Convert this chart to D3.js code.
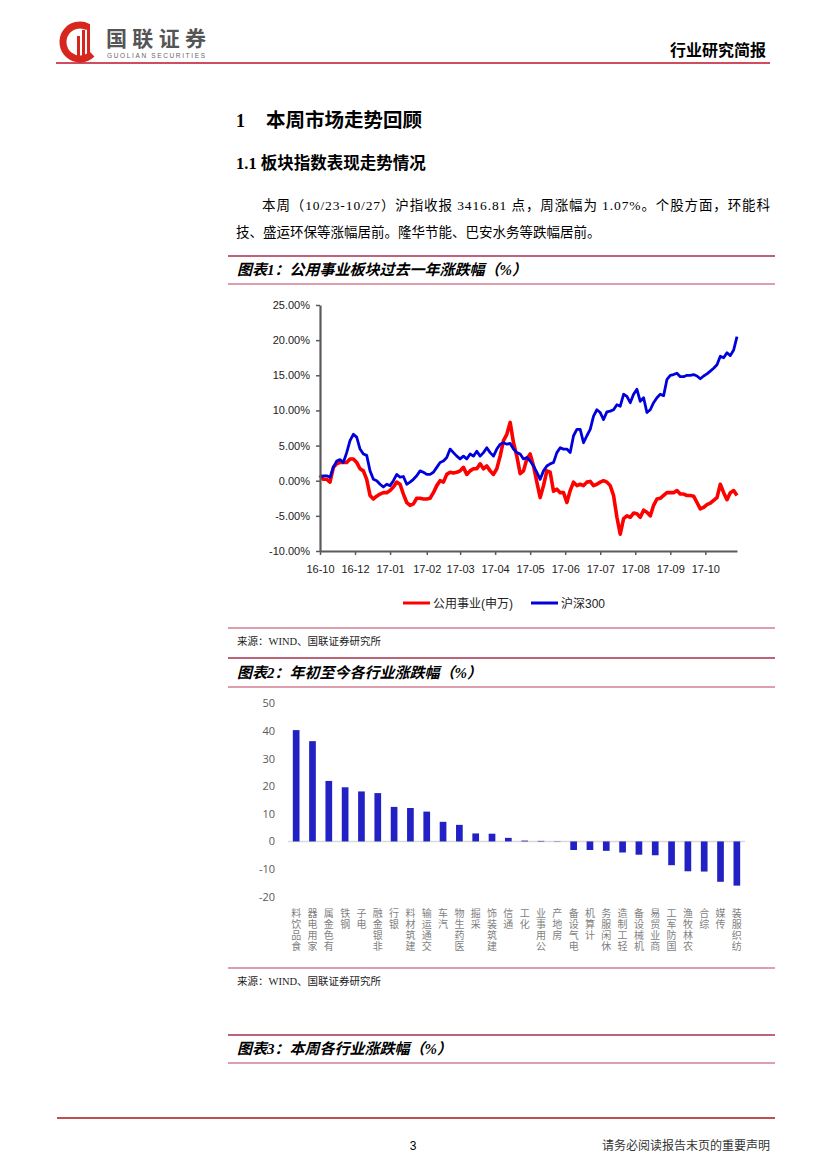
<!DOCTYPE html>
<html>
<head>
<meta charset="utf-8">
<script src="https://cdn.jsdelivr.net/npm/d3@7"></script>
<style>
  body { margin: 0; background: #fff; }
</style>
</head>
<body>
<svg id="page" width="827" height="1169"></svg>
<script>
// chart 1: one point every 2 trading days, 16-10-27 .. 17-10-27
var dayStep = 2;
var utility = [0.8, 0.2, 0.2, -0.2, 1.9, 2.4, 2.6, 2.6, 2.6, 3.1,
  3.1, 2.6, 1.7, 1.4, 0.2, -2.1, -2.6, -2.2, -1.9, -1.7,
  -1.7, -1.4, -0.9, -0.2, -0.5, -1.9, -3.1, -3.5, -3.3, -2.5,
  -2.5, -2.6, -2.6, -2.5, -1.7, -0.7, 0.0, -0.2, 0.9, 1.2,
  1.1, 1.2, 1.4, 1.9, 0.9, 1.4, 1.7, 1.7, 2.4, 1.7,
  2.1, 1.4, 0.9, 1.7, 3.5, 5.7, 6.6, 8.3, 5.4, 3.5,
  1.0, 1.4, 3.1, 3.8, 2.1, -0.2, -2.4, -0.7, 1.4, 1.2,
  -1.5, -1.2, -1.7, -1.7, -3.1, -1.4, -0.2, -0.7, -0.5, -0.7,
  -0.2, -0.1, -0.7, -0.5, -0.2, 0.0, -0.2, -0.7, -2.1, -5.2,
  -7.6, -5.4, -5.0, -5.2, -4.6, -4.7, -5.2, -4.2, -4.5, -5.0,
  -3.5, -2.6, -2.5, -2.1, -1.7, -1.7, -1.7, -1.4, -1.9, -1.9,
  -2.1, -2.1, -2.2, -3.1, -4.0, -3.8, -3.4, -3.2, -2.8, -2.4,
  -0.5, -1.7, -2.7, -1.7, -1.4, -2.1];
var hs300 = [0.5, 0.7, 0.7, 0.5, 1.9, 2.8, 3.0, 2.6, 4.0, 5.7,
  6.6, 6.2, 4.5, 3.8, 3.6, 1.4, 0.2, 0.0, -0.5, -0.9,
  -0.5, -0.7, 0.0, 0.9, 0.5, 0.6, -0.5, -0.2, 0.2, 0.7,
  1.4, 1.2, 0.9, 0.9, 1.2, 1.9, 2.6, 2.8, 3.3, 4.5,
  4.0, 3.5, 3.1, 3.5, 3.1, 3.8, 3.5, 4.2, 3.5, 4.0,
  4.7, 4.0, 3.5, 4.5, 5.2, 5.4, 5.2, 5.3, 4.5, 4.0,
  3.8, 3.1, 3.3, 2.8, 2.1, 1.2, 0.2, 1.4, 2.1, 2.4,
  2.6, 4.0, 4.7, 4.5, 4.5, 4.0, 6.4, 7.3, 7.3, 5.4,
  6.4, 7.3, 9.2, 10.1, 9.7, 8.7, 9.8, 9.9, 10.1, 10.8,
  10.6, 12.3, 12.0, 11.1, 12.3, 13.0, 11.3, 11.8, 9.7, 10.1,
  11.1, 11.8, 12.3, 12.1, 14.4, 15.0, 15.1, 15.3, 14.8, 14.8,
  15.0, 15.0, 15.1, 14.9, 14.5, 14.9, 15.2, 15.6, 16.0, 16.5,
  17.7, 17.5, 18.2, 17.8, 18.6, 20.5];
var seriesNames = ["公用事业(申万)", "沪深300"];
var seriesColors = ["#ff0000", "#0000dd"];
var monthTickDays = [0, 21, 42, 64, 84, 105, 126, 147, 168, 189, 210, 231];
var monthLabels = ["16-10", "16-12", "17-01", "17-02", "17-03", "17-04",
  "17-05", "17-06", "17-07", "17-08", "17-09", "17-10"];
var pctTicks = [-10, -5, 0, 5, 10, 15, 20, 25];

// chart 2: year to date change by industry
var industries = ["食品饮料", "家用电器", "有色金属", "钢铁", "电子", "非银金融", "银行",
  "建筑材料", "交通运输", "汽车", "医药生物", "采掘", "建筑装饰", "通信", "化工",
  "公用事业", "房地产", "电气设备", "计算机", "休闲服务", "轻工制造", "机械设备",
  "商业贸易", "国防军工", "农林牧渔", "综合", "传媒", "纺织服装"];
var ytdChange = [40.3, 36.3, 21.9, 19.6, 18.1, 17.5, 12.5, 12.1, 10.8, 7.1,
  6.0, 2.9, 2.8, 1.3, 0.3, 0.2, 0.1, -3.1, -3.1, -3.4,
  -4.0, -4.8, -5.0, -8.6, -10.8, -10.9, -14.6, -16.0];
var barTicks = [-20, -10, 0, 10, 20, 30, 40, 50];

var cjk = "'Liberation Serif', 'Noto Sans CJK SC', serif";
var sans = "'Liberation Sans', 'Noto Sans CJK SC', sans-serif";
var svg = d3.select("#page");

drawHeader();
drawText();
drawLineChart();
drawBarChart();
drawFooter();

function drawHeader() {
  var logo = svg.append("g");
  logo.append("path")
    .attr("d", "M88,27 A17,17 0 1 0 92,54")
    .attr("fill", "none")
    .attr("stroke", "#d7261e")
    .attr("stroke-width", 7);
  [[77, 36], [82, 30], [87, 24]].forEach(function(b) {
    logo.append("rect")
      .attr("x", b[0]).attr("y", b[1])
      .attr("width", 3).attr("height", 58 - b[1])
      .attr("fill", "#d7261e");
  });
  logo.append("text")
    .attr("x", 106).attr("y", 46)
    .attr("font-family", "'Noto Sans CJK SC'")
    .attr("font-weight", "bold")
    .attr("font-size", "21px")
    .attr("fill", "#555")
    .attr("textLength", 100)
    .text("国联证券");
  logo.append("text")
    .attr("x", 107).attr("y", 58)
    .attr("font-family", "'Liberation Sans'")
    .attr("font-size", "6.5px")
    .attr("fill", "#666")
    .attr("textLength", 98)
    .text("GUOLIAN SECURITIES");

  svg.append("text")
    .attr("x", 766).attr("y", 56)
    .attr("text-anchor", "end")
    .attr("font-family", "'Noto Sans CJK SC'")
    .attr("font-weight", "bold")
    .attr("font-size", "16px")
    .text("行业研究简报");
  hline(56, 770, 63, "#c0102a", 1.6);
}

function drawText() {
  svg.append("text")
    .attr("x", 236).attr("y", 127)
    .attr("font-family", cjk).attr("font-weight", "bold")
    .attr("font-size", "18px")
    .text("1");
  svg.append("text")
    .attr("x", 266).attr("y", 127)
    .attr("font-family", cjk).attr("font-weight", "bold")
    .attr("font-size", "19.5px")
    .text("本周市场走势回顾");
  svg.append("text")
    .attr("x", 236).attr("y", 169)
    .attr("font-family", cjk).attr("font-weight", "bold")
    .attr("font-size", "16.5px")
    .text("1.1 板块指数表现走势情况");
  svg.append("text")
    .attr("x", 262).attr("y", 210)
    .attr("font-family", cjk).attr("font-size", "13.5px")
    .attr("textLength", 508).attr("lengthAdjust", "spacing")
    .text("本周（10/23-10/27）沪指收报 3416.81 点，周涨幅为 1.07%。个股方面，环能科");
  svg.append("text")
    .attr("x", 236).attr("y", 237)
    .attr("font-family", cjk).attr("font-size", "13.5px")
    .text("技、盛运环保等涨幅居前。隆华节能、巴安水务等跌幅居前。");

  titleBox(256, 284, "图表1：公用事业板块过去一年涨跌幅（%）");
  source(628, "来源：WIND、国联证券研究所");
  titleBox(658, 687, "图表2：年初至今各行业涨跌幅（%）");
  source(968, "来源：WIND、国联证券研究所");
  titleBox(1035, 1063, "图表3：本周各行业涨跌幅（%）");
}

function titleBox(top, bottom, label) {
  hline(228, 775, top, "#a8304c", 1.5);
  hline(228, 775, bottom, "#d27f93", 1.5);
  svg.append("text")
    .attr("x", 237).attr("y", (top + bottom) / 2 + 5)
    .attr("font-family", cjk)
    .attr("font-weight", "bold").attr("font-style", "italic")
    .attr("font-size", "15px")
    .text(label);
}

function source(y, label) {
  hline(228, 775, y, "#d27f93", 1.5);
  svg.append("text")
    .attr("x", 237).attr("y", y + 17)
    .attr("font-family", cjk)
    .attr("font-size", "10.5px")
    .attr("fill", "#222")
    .text(label);
}

function hline(x1, x2, y, color, w) {
  svg.append("line")
    .attr("x1", x1).attr("x2", x2)
    .attr("y1", y).attr("y2", y)
    .attr("stroke", color)
    .attr("stroke-width", w);
}

function drawLineChart() {
  var g = svg.append("g");
  var x = d3.scaleLinear().domain([0, 250]).range([320, 737]);
  var y = d3.scaleLinear().domain([-10, 25]).range([551, 305]);

  var line = d3.line()
    .x(function(d, i) { return x(i * dayStep); })
    .y(function(d) { return y(d); });

  [utility, hs300].forEach(function(s, k) {
    g.append("path")
      .datum(s)
      .attr("d", line)
      .attr("fill", "none")
      .attr("stroke", seriesColors[k])
      .attr("stroke-width", k == 0 ? 3.6 : 2.8)
      .attr("stroke-linejoin", "round");
  });

  var yAxis = g.append("g")
    .attr("transform", "translate(320,0)")
    .call(d3.axisLeft(y)
      .tickValues(pctTicks)
      .tickFormat(function(d) { return d.toFixed(2) + "%"; })
      .tickSizeInner(4).tickSizeOuter(0).tickPadding(6));
  var xAxis = g.append("g")
    .attr("transform", "translate(0,551)")
    .call(d3.axisBottom(x)
      .tickValues(monthTickDays)
      .tickFormat(function(d, i) { return monthLabels[i]; })
      .tickSizeInner(4).tickSizeOuter(0).tickPadding(10));

  [yAxis, xAxis].forEach(function(a) {
    a.select(".domain").attr("stroke", "#5a5a5a").attr("stroke-width", 2.2);
    a.selectAll(".tick line").attr("stroke", "#5a5a5a").attr("stroke-width", 1.5);
    a.selectAll("text")
      .attr("font-family", sans)
      .attr("font-size", "11px")
      .attr("fill", "#222");
  });

  // legend
  var lx = [403, 531];
  seriesNames.forEach(function(name, k) {
    g.append("line")
      .attr("x1", lx[k]).attr("x2", lx[k] + 27)
      .attr("y1", 603).attr("y2", 603)
      .attr("stroke", seriesColors[k])
      .attr("stroke-width", 3);
    g.append("text")
      .attr("x", lx[k] + 30).attr("y", 607.5)
      .attr("font-family", sans)
      .attr("font-size", "12px")
      .attr("fill", "#222")
      .text(name);
  });
}

function drawBarChart() {
  var g = svg.append("g");
  var x = d3.scaleBand().domain(industries).range([288, 745])
    .paddingInner(0.59).paddingOuter(0.295);
  var y = d3.scaleLinear().domain([-20, 50]).range([896.7, 703.3]);

  g.selectAll(".ylab")
    .data(barTicks)
    .enter().append("text")
    .attr("x", 275)
    .attr("y", function(d) { return y(d) + 4; })
    .attr("text-anchor", "end")
    .attr("font-family", "'Open Sans', 'Liberation Sans'")
    .attr("font-size", "11px")
    .attr("fill", "#595959")
    .text(function(d) { return d; });

  g.append("line")
    .attr("x1", 288).attr("x2", 745)
    .attr("y1", y(0)).attr("y2", y(0))
    .attr("stroke", "#d9d9d9")
    .attr("stroke-width", 1.5);

  g.selectAll(".bar")
    .data(ytdChange)
    .enter().append("rect")
    .attr("x", function(d, i) { return x(industries[i]); })
    .attr("width", x.bandwidth())
    .attr("y", function(d) { return y(Math.max(0, d)); })
    .attr("height", function(d) { return Math.abs(y(d) - y(0)); })
    .attr("fill", "#2222c4");

  // stacked labels, read from the bottom up, last character nearest the axis
  industries.forEach(function(name) {
    var chars = name.split("").reverse();
    var cx = x(name) + x.bandwidth() / 2;
    chars.forEach(function(c, j) {
      g.append("text")
        .attr("x", cx)
        .attr("y", 917 + j * 11)
        .attr("text-anchor", "middle")
        .attr("font-family", cjk)
        .attr("font-size", "10px")
        .attr("fill", "#7f7f7f")
        .text(c);
    });
  });
}

function drawFooter() {
  hline(57, 775, 1118, "#c0504d", 2);
  svg.append("text")
    .attr("x", 413).attr("y", 1150)
    .attr("text-anchor", "middle")
    .attr("font-family", sans)
    .attr("font-size", "12px")
    .text("3");
  svg.append("text")
    .attr("x", 770).attr("y", 1150)
    .attr("text-anchor", "end")
    .attr("font-family", cjk)
    .attr("font-size", "12px")
    .attr("fill", "#333")
    .text("请务必阅读报告末页的重要声明");
}
</script>
</body>
</html>
